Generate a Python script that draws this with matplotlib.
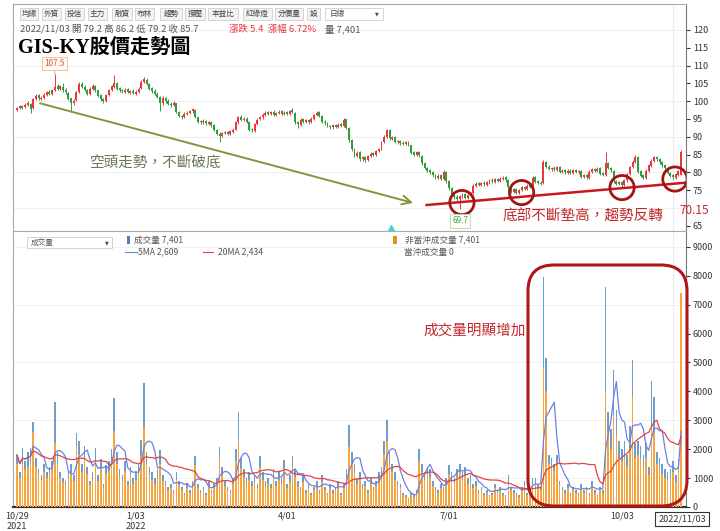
import numpy as np
import pandas as pd
import matplotlib
matplotlib.use('Agg')
import matplotlib.pyplot as plt
from matplotlib.patches import Rectangle, Ellipse, FancyBboxPatch
from matplotlib.lines import Line2D
from matplotlib.transforms import IdentityTransform

plt.rcParams['font.family'] = ['Noto Sans CJK TC', 'DejaVu Sans']

# daily prices, 2021/10/29 .. 2022/11/03 (estimated)
opens = [
    97.6, 98.2, 98.6, 98.3, 99.0, 99.3, 98.0, 100.6, 101.6, 100.6,
    101.0, 101.8, 102.6, 102.0, 103.2, 104.2, 103.4, 104.0, 103.2, 102.4,
    100.8, 99.4, 100.2, 102.6, 104.9, 104.0, 103.0, 102.0, 103.4, 104.3,
    103.0, 101.6, 100.6, 100.0, 101.8, 103.0, 104.0, 105.2, 103.6, 103.1,
    102.6, 103.3, 102.4, 102.9, 102.1, 102.6, 103.6, 105.4, 106.0, 104.8,
    103.6, 102.9, 102.1, 101.2, 99.4, 101.0, 100.1, 99.3, 98.8, 99.4,
    97.0, 95.8, 95.5, 96.4, 96.7, 97.1, 97.6, 95.4, 94.3, 94.0,
    94.4, 93.7, 94.1, 93.2, 92.0, 90.9, 90.1, 91.1, 91.3, 90.8,
    91.4, 92.0, 94.0, 95.6, 94.8, 95.1, 94.2, 92.1, 91.7, 93.5,
    94.9, 95.4, 96.2, 96.9, 96.4, 97.0, 96.2, 96.6, 97.1, 96.3,
    96.9, 96.4, 97.4, 96.8, 94.1, 93.4, 94.9, 94.1, 94.7, 94.0,
    95.0, 96.0, 96.9, 95.9, 94.2, 93.9, 93.1, 92.6, 93.3, 92.7,
    93.5, 93.0, 94.9, 92.4, 89.1, 86.4, 84.7, 85.6, 83.7, 84.3,
    83.4, 84.5, 85.3, 84.9, 86.0, 86.6, 88.4, 90.0, 91.9, 89.4,
    89.9, 88.4, 88.9, 88.3, 88.0, 88.5, 87.6, 85.6, 84.9, 85.7,
    84.6, 82.6, 81.3, 80.6, 80.1, 79.3, 78.4, 79.1, 78.1, 80.1,
    77.6, 75.5, 74.1, 73.1, 72.4, 73.1, 73.9, 72.7, 73.4, 74.1,
    76.1, 76.9, 76.4, 77.1, 76.5, 77.1, 77.9, 77.4, 78.1, 77.5,
    78.1, 78.6, 77.7, 75.9, 74.4, 75.3, 74.1, 75.1, 75.9, 75.3,
    76.3, 76.0, 78.6, 77.5, 77.1, 76.9, 82.8, 81.6, 80.9, 81.3,
    80.7, 81.5, 80.1, 80.6, 79.9, 80.5, 79.7, 80.7, 80.0, 80.4,
    78.7, 79.3, 78.5, 80.1, 80.9, 80.3, 81.1, 79.7, 79.2, 82.6,
    81.3, 80.5, 77.6, 76.7, 77.3, 76.4, 77.7, 79.4, 81.4, 82.9,
    84.4, 80.3, 79.1, 78.4, 80.4, 81.9, 83.1, 84.3, 83.7, 82.9,
    82.1, 81.3, 79.9, 79.1, 78.5, 79.3, 79.2]

closes = [
    98.0, 98.5, 98.2, 99.0, 99.5, 97.8, 100.5, 101.5, 100.8, 101.0,
    101.8, 102.5, 102.0, 103.0, 104.0, 103.5, 104.2, 103.0, 102.5, 100.5,
    99.5, 100.0, 102.5, 104.8, 104.0, 103.2, 102.0, 103.5, 104.2, 103.0,
    101.5, 100.5, 100.0, 101.8, 103.0, 104.2, 105.0, 103.5, 103.0, 102.8,
    103.2, 102.5, 102.8, 102.2, 102.6, 103.5, 105.5, 106.2, 104.8, 103.5,
    102.8, 102.0, 101.2, 99.5, 101.0, 100.0, 99.2, 98.8, 99.5, 97.0,
    95.8, 95.5, 96.5, 96.8, 97.2, 97.8, 95.5, 94.2, 94.0, 94.5,
    93.8, 94.0, 93.2, 92.0, 90.8, 90.2, 91.0, 91.2, 90.8, 91.5,
    92.0, 94.0, 95.5, 94.8, 95.0, 94.2, 92.0, 91.8, 93.5, 94.8,
    95.5, 96.2, 96.8, 96.5, 96.9, 96.2, 96.6, 97.0, 96.4, 96.8,
    96.5, 97.2, 97.0, 94.0, 93.5, 94.8, 94.2, 94.6, 94.0, 95.0,
    96.0, 96.8, 95.8, 94.2, 93.8, 93.0, 92.6, 93.2, 92.8, 93.4,
    93.0, 94.8, 92.5, 89.0, 86.5, 84.8, 85.5, 83.8, 84.2, 83.5,
    84.5, 85.2, 85.0, 86.0, 86.5, 88.5, 90.0, 91.8, 89.5, 89.8,
    88.5, 88.8, 88.2, 88.0, 88.4, 87.8, 85.5, 85.0, 85.6, 84.8,
    82.5, 81.2, 80.5, 80.0, 79.2, 78.5, 79.0, 78.2, 80.2, 77.5,
    75.5, 74.0, 73.0, 72.5, 73.2, 73.8, 72.8, 73.5, 74.0, 76.2,
    76.8, 76.5, 77.0, 76.6, 77.2, 77.8, 77.5, 78.0, 77.6, 78.2,
    78.5, 77.8, 75.8, 74.5, 75.2, 74.2, 75.0, 75.8, 75.4, 76.2,
    76.0, 78.5, 77.4, 77.0, 76.8, 83.0, 81.5, 81.0, 81.2, 80.8,
    81.4, 80.2, 80.5, 80.0, 80.4, 79.8, 80.6, 80.1, 80.3, 78.8,
    79.2, 78.6, 80.2, 80.8, 80.4, 81.0, 79.6, 79.3, 82.5, 81.2,
    80.6, 77.5, 76.8, 77.2, 76.5, 77.8, 79.5, 81.5, 83.0, 84.3,
    80.2, 79.0, 78.5, 80.5, 82.0, 83.2, 84.2, 83.6, 82.8, 82.0,
    81.2, 79.8, 79.0, 78.6, 79.4, 80.3, 85.7]

highs = [
    98.4, 98.9, 99.0, 99.4, 100.0, 99.6, 100.8, 102.0, 101.9, 101.4,
    102.2, 102.9, 103.0, 103.5, 107.5, 104.8, 104.6, 105.0, 103.6, 102.7,
    101.0, 100.6, 102.9, 105.3, 105.4, 104.4, 103.3, 103.9, 104.7, 104.6,
    103.2, 101.9, 101.0, 102.1, 103.4, 104.6, 107.4, 105.5, 104.0, 103.5,
    103.6, 103.7, 103.2, 103.3, 103.0, 103.9, 105.9, 106.8, 106.4, 105.1,
    104.0, 103.3, 102.5, 101.5, 101.4, 101.3, 100.5, 99.7, 99.9, 99.6,
    97.3, 96.2, 96.9, 97.2, 97.6, 98.2, 97.8, 95.6, 94.6, 94.9,
    94.7, 94.4, 94.4, 93.5, 92.3, 91.3, 91.4, 91.6, 91.7, 91.9,
    92.4, 94.4, 95.9, 96.0, 95.4, 95.4, 94.4, 92.5, 93.8, 95.2,
    95.9, 96.6, 97.2, 97.3, 97.3, 97.4, 97.0, 97.4, 97.5, 97.2,
    97.3, 97.6, 98.1, 97.0, 94.4, 95.2, 95.2, 95.0, 95.0, 95.4,
    96.4, 97.2, 97.2, 96.1, 94.6, 94.2, 93.4, 93.6, 93.6, 93.8,
    93.8, 95.2, 95.1, 92.6, 89.4, 86.7, 85.9, 85.9, 84.6, 84.6,
    84.9, 85.6, 85.7, 86.4, 86.9, 88.9, 90.4, 92.3, 92.1, 90.2,
    90.1, 89.2, 89.2, 88.7, 88.8, 88.8, 87.8, 86.0, 86.0, 86.0,
    84.8, 82.9, 81.6, 81.0, 80.4, 79.6, 79.4, 79.4, 80.6, 80.3,
    77.8, 75.8, 74.4, 73.5, 73.6, 74.2, 74.2, 73.9, 74.4, 76.6,
    77.2, 77.3, 77.4, 77.5, 77.6, 78.2, 78.3, 78.4, 78.5, 78.6,
    78.9, 79.0, 78.0, 76.2, 75.6, 75.6, 75.4, 76.2, 76.2, 76.6,
    76.7, 78.9, 78.9, 77.9, 77.5, 83.5, 83.2, 82.0, 81.6, 81.7,
    81.8, 81.8, 80.9, 81.0, 80.8, 80.9, 81.0, 81.0, 80.7, 80.7,
    79.6, 79.6, 80.6, 81.2, 81.3, 81.4, 81.4, 80.1, 85.6, 82.9,
    81.6, 80.7, 77.9, 77.6, 77.6, 78.2, 79.9, 81.9, 83.4, 84.8,
    84.6, 80.6, 79.5, 80.9, 82.4, 83.6, 84.6, 84.7, 84.0, 83.3,
    82.4, 81.6, 80.2, 79.5, 79.8, 80.7, 86.2]

lows = [
    97.2, 97.9, 97.8, 98.0, 98.7, 96.6, 97.8, 100.3, 100.4, 100.2,
    100.7, 101.5, 101.6, 101.8, 102.9, 103.0, 103.1, 102.7, 102.1, 100.2,
    97.0, 99.0, 100.0, 102.4, 103.6, 102.8, 101.6, 101.8, 103.1, 102.7,
    101.1, 100.1, 99.6, 99.8, 101.5, 102.8, 103.8, 103.1, 102.6, 102.4,
    102.3, 102.2, 102.0, 101.9, 101.8, 102.3, 103.4, 105.0, 104.4, 103.1,
    102.4, 101.6, 100.8, 97.2, 99.0, 99.6, 98.8, 98.4, 98.5, 96.6,
    95.4, 95.0, 95.2, 96.0, 96.4, 96.8, 95.2, 93.8, 93.6, 93.7,
    93.4, 93.4, 92.8, 91.6, 90.4, 88.6, 89.8, 90.7, 90.4, 90.5,
    91.1, 91.8, 93.7, 94.4, 94.4, 93.8, 91.6, 91.2, 91.4, 93.2,
    94.6, 95.1, 95.9, 96.1, 96.1, 95.9, 95.9, 96.3, 96.0, 96.0,
    96.2, 96.1, 96.7, 93.6, 92.5, 93.1, 93.9, 93.8, 93.7, 93.8,
    94.8, 95.7, 95.4, 93.9, 93.4, 92.6, 92.2, 92.3, 92.4, 92.4,
    92.6, 92.8, 92.1, 88.6, 86.0, 84.3, 84.4, 83.3, 83.3, 83.0,
    83.1, 84.2, 84.6, 84.6, 85.7, 86.3, 88.1, 89.7, 89.1, 89.0,
    88.1, 88.0, 87.8, 87.6, 87.7, 87.4, 85.1, 84.6, 84.6, 84.4,
    82.1, 80.8, 80.1, 79.6, 78.8, 78.1, 78.1, 77.8, 77.9, 77.1,
    75.1, 73.6, 72.6, 72.0, 69.7, 72.8, 72.4, 72.4, 73.1, 73.9,
    75.8, 76.1, 76.1, 76.2, 76.2, 76.8, 77.1, 77.1, 77.2, 77.2,
    77.8, 77.4, 75.4, 74.1, 74.1, 73.8, 73.8, 74.8, 75.0, 75.0,
    75.6, 75.8, 77.0, 76.6, 76.4, 76.7, 81.1, 80.6, 80.5, 80.4,
    80.4, 79.8, 79.8, 79.6, 79.6, 79.4, 79.4, 79.7, 79.6, 78.4,
    78.3, 78.2, 78.2, 79.8, 80.0, 80.0, 79.2, 78.9, 79.0, 80.8,
    80.2, 77.1, 76.3, 76.3, 75.9, 76.1, 77.4, 79.1, 81.1, 82.6,
    79.8, 78.6, 78.1, 78.1, 80.1, 81.6, 82.8, 83.2, 82.4, 81.6,
    80.8, 79.4, 78.6, 78.2, 78.2, 79.0, 79.2]

# 成交量 (total) and 非當沖成交量 (non day-trade), lots
volume = [
    1800, 1200, 2050, 1600, 1900, 2050, 2950, 1700, 1300, 1100,
    1500, 1200, 1400, 1600, 3650, 1900, 1200, 1000, 900, 1200,
    1500, 1100, 2550, 2300, 1500, 2100, 1400, 900, 1200, 2050,
    1100, 1650, 800, 1450, 1600, 2000, 3770, 1900, 1300, 1100,
    1600, 900, 1400, 1000, 1200, 1500, 2320, 4290, 1900, 1400,
    1200, 1000, 1300, 1960, 1100, 900, 700, 800, 600, 1200,
    900, 700, 500, 800, 600, 900, 1780, 800, 600, 700,
    500, 900, 600, 800, 1000, 2060, 1400, 900, 700, 600,
    1000, 2010, 3280, 1700, 1300, 1000, 1200, 900, 1100, 800,
    1750, 1200, 900, 1000, 800, 1300, 900, 1200, 1000, 1640,
    800, 1100, 1750, 1300, 900, 700, 1100, 600, 800, 500,
    700, 900, 600, 1100, 700, 500, 800, 600, 700, 900,
    500, 800, 1300, 2830, 1900, 1500, 1000, 1200, 800, 900,
    600, 1000, 700, 900, 1200, 1400, 2300, 3010, 1900, 1500,
    1200, 900, 800, 500, 400, 300, 500, 400, 600, 2000,
    1500, 1200, 1400, 1300, 900, 700, 600, 800, 700, 1000,
    1450, 1200, 1000, 1300, 1500, 1200, 1400, 1000, 1100, 800,
    900, 600, 700, 500, 600, 400, 500, 800, 600, 700,
    500, 400, 1100, 700, 600, 500, 400, 700, 900, 500,
    600, 1000, 1000, 800, 700, 7960, 5150, 1800, 1700, 1500,
    1800, 900, 700, 600, 800, 500, 700, 600, 500, 800,
    600, 700, 500, 900, 600, 400, 700, 600, 7620, 3300,
    2700, 4740, 3350, 2300, 2000, 2300, 1800, 2800, 5090, 2200,
    2300, 2100, 1800, 2200, 1400, 4360, 3800, 1900, 1700, 1500,
    1300, 1200, 1300, 1600, 1100, 1650, 7401]

non_daytrade = [
    1500, 1000, 1500, 1300, 1400, 1600, 2600, 1400, 1100, 900,
    1200, 1000, 1100, 1300, 2220, 1500, 1000, 850, 750, 1000,
    1200, 900, 2100, 1800, 1200, 1700, 1150, 750, 950, 1600,
    900, 1300, 650, 1150, 1250, 1600, 2620, 1500, 1050, 900,
    1250, 750, 1100, 800, 950, 1200, 1800, 2780, 1500, 1100,
    950, 800, 1050, 1500, 900, 750, 600, 650, 500, 950,
    750, 600, 420, 650, 500, 750, 1450, 650, 500, 580,
    420, 720, 500, 650, 800, 1700, 1100, 720, 580, 500,
    800, 1600, 2300, 1350, 1050, 800, 950, 720, 880, 650,
    1400, 950, 720, 800, 650, 1050, 720, 950, 800, 1350,
    650, 880, 1400, 1050, 720, 580, 880, 500, 650, 420,
    580, 720, 500, 880, 580, 420, 650, 500, 580, 720,
    420, 650, 1050, 2080, 1500, 1200, 800, 950, 650, 720,
    500, 800, 580, 720, 950, 1100, 1850, 2300, 1500, 1200,
    950, 720, 650, 420, 340, 260, 420, 340, 500, 1600,
    1200, 950, 1100, 1050, 720, 580, 500, 650, 580, 800,
    1150, 950, 800, 1050, 1200, 950, 1100, 800, 880, 650,
    720, 500, 580, 420, 500, 340, 420, 650, 500, 580,
    420, 340, 880, 580, 500, 420, 340, 580, 720, 420,
    500, 800, 800, 650, 580, 4810, 4000, 1500, 1400, 1250,
    1500, 750, 580, 500, 650, 420, 580, 500, 420, 650,
    500, 580, 420, 720, 500, 340, 580, 500, 3980, 2600,
    2000, 3200, 2500, 1700, 1600, 1700, 1400, 2000, 3790, 1700,
    1800, 1650, 1400, 1700, 1100, 2800, 2600, 1500, 1300, 1150,
    1000, 950, 1000, 1200, 850, 1300, 7401]

# trading-day index of the date labels
date_ticks = [0, 44, 100, 160, 224]
date_labels = ['10/29\n2021', '1/03\n2022', '4/01', '7/01', '10/03']
price_ticks = [65, 75, 80, 85, 90, 95, 100, 105, 110, 115, 120]
vol_ticks = list(range(0, 9001, 1000))

toolbar = ['均線', '外資', '投信', '主力', '融資', '布林', '趨勢', '撐壓',
           '本益比', '紅綠燈', '分價量', '設']
toolbar_x = [(20, 38), (42, 61), (65, 84), (88, 107), (112, 132), (135, 154),
             (160, 182), (185, 205), (208, 238), (243, 272), (275, 303), (307, 320)]

W, H = 720, 531
fig = plt.figure(figsize=(W / 100, H / 100), dpi=100)


def fx(x):
    return x / W


def fy(y):
    return 1 - y / H


def box(x0, y0, x1, y1):
    return [fx(x0), fy(y1), (x1 - x0) / W, (y1 - y0) / H]


RED = '#e8383d'
GREEN = '#2f9d3c'
NOTE_RED = '#c0282c'

axp = fig.add_axes(box(13, 4, 686, 231))
axv = fig.add_axes(box(13, 231, 686, 507), sharex=axp)

idx = np.arange(len(closes))
o = np.array(opens)
c = np.array(closes)
hi = np.array(highs)
lo = np.array(lows)
col = np.where(c >= o, RED, GREEN)

# ---- price panel
for y in [70, 80, 90, 100, 110, 120]:
    axp.axhline(y, color='#efefef', lw=0.8, zorder=0)
axp.axvline(243, color='#ececec', lw=0.8, zorder=0)
axv.axvline(243, color='#ececec', lw=0.8, zorder=0)

axp.vlines(idx, lo, hi, colors=col, lw=0.7, zorder=2)
axp.bar(idx, np.maximum(np.abs(c - o), 0.15), bottom=np.minimum(o, c),
        width=0.72, color=col, lw=0, zorder=3)

axp.set_xlim(-1.5, 247.8)
axp.set_ylim(63.5, 127.3)
axp.yaxis.tick_right()
axp.set_yticks(price_ticks)
axp.tick_params(axis='y', labelsize=6.5, length=3, colors='#333', pad=2)
axp.tick_params(axis='x', bottom=False, labelbottom=False)
for s in ['top', 'left', 'bottom']:
    axp.spines[s].set_color('#aaaaaa')
axp.spines['right'].set_color('#777777')

# annotations on price
axp.annotate('', xy=(146.7, 71.4), xytext=(8.5, 99.4),
             arrowprops=dict(arrowstyle='->', color='#82953f', lw=1.4,
                             mutation_scale=16, shrinkA=0, shrinkB=0), zorder=4)
axp.plot([151.7, 248], [70.8, 77.1], color='#c8181c', lw=1.8, zorder=4)
for cx, cy in [(164.8, 71.5), (186.9, 74.3), (224.1, 75.7), (243.7, 78.1)]:
    axp.add_patch(Ellipse((cx, cy), 9.0, 6.8, fill=False, ec='#a01515', lw=2, zorder=5))

axp.annotate('107.5', xy=(14, 107.5), xytext=(14, 110.6), textcoords='data',
             ha='center', va='center', fontsize=5.8, color='#e0502a',
             bbox=dict(boxstyle='square,pad=0.3', fc='#fffaf3', ec='#f2c49a', lw=0.7),
             arrowprops=dict(arrowstyle='-', color='#e8906a', lw=0.6, shrinkA=0, shrinkB=0))
axp.text(164.1, 66.35, '69.7', ha='center', va='center', fontsize=5.8, color='#4aa04a',
         bbox=dict(boxstyle='square,pad=0.3', fc='#fbfff8', ec='#b8dcb0', lw=0.7), zorder=6)
axp.plot(138.5, 64.4, marker='^', color='#3dd0e0', ms=5, clip_on=False)

axp.text(27.0, 82.4, '空頭走勢，不斷破底', fontsize=10.5, color='#687a58', va='center')
axp.text(180.0, 67.6, '底部不斷墊高，趨勢反轉', fontsize=10.5, color=NOTE_RED, va='center')
fig.text(fx(694), fy(210), '70.15', fontsize=8.5, color=NOTE_RED, ha='center', va='center')

# ---- volume panel
for y in [1000, 3000, 5000, 7000, 9000]:
    axv.axhline(y, color='#f0f0f0', lw=0.8, zorder=0)
vol = np.array(volume)
axv.bar(idx, vol, width=0.6, color='#6d9dcb', lw=0, zorder=2)
axv.bar(idx, non_daytrade, width=0.6, color='#f5a53f', lw=0, zorder=3)
vs = pd.Series(vol)
axv.plot(idx, vs.rolling(5, min_periods=1).mean(), color='#7080e0', lw=0.9, zorder=4)
axv.plot(idx, vs.rolling(20, min_periods=1).mean(), color='#e04545', lw=0.9, zorder=4)

axv.set_ylim(0, 9550)
axv.yaxis.tick_right()
axv.set_yticks(vol_ticks)
axv.tick_params(axis='y', labelsize=6.5, length=3, colors='#333', pad=2)
axv.set_xticks(date_ticks)
axv.set_xticklabels(date_labels)
axv.tick_params(axis='x', labelsize=6.5, length=0, colors='#333', pad=3)
axv.spines['left'].set_color('#aaaaaa')
axv.spines['top'].set_color('#aaaaaa')
axv.spines['right'].set_color('#777777')
axv.spines['bottom'].set_color('#333333')
axv.spines['bottom'].set_linewidth(1.6)

fig.text(fx(682), fy(519), '2022/11/03', fontsize=6.5, ha='center', va='center', color='#333',
         bbox=dict(boxstyle='square,pad=0.3', fc='white', ec='#333', lw=0.8))

axv.text(150.4, 6100, '成交量明顯增加', fontsize=10.5, color=NOTE_RED, va='center')
fig.add_artist(FancyBboxPatch((528, 25), 159, 241, boxstyle='round,pad=0,rounding_size=26',
                              transform=IdentityTransform(), fill=False, ec='#b01818', lw=2.2))

# ---- header widgets
for lab, (x0, x1) in zip(toolbar, toolbar_x):
    fig.add_artist(Rectangle((fx(x0), fy(20)), (x1 - x0) / W, 12 / H, transform=fig.transFigure,
                             fc='#f3f3f3', ec='#cfcfcf', lw=0.6))
    fig.text(fx((x0 + x1) / 2), fy(14), lab, fontsize=5.5, color='#444', ha='center', va='center')
fig.add_artist(Rectangle((fx(325), fy(20)), 58 / W, 12 / H, transform=fig.transFigure,
                         fc='white', ec='#cfcfcf', lw=0.6))
fig.text(fx(330), fy(14), '日線', fontsize=5.5, color='#444', va='center')
fig.text(fx(377), fy(14), '▼', fontsize=3.5, color='#444', va='center', ha='center',
         family=['DejaVu Sans'])

fig.text(fx(20), fy(29), '2022/11/03 開 79.2 高 86.2 低 79.2 收 85.7', fontsize=6.8,
         color='#555', va='center')
fig.text(fx(229), fy(29), '漲跌 5.4  漲幅 6.72%', fontsize=6.8, color='#e8383d', va='center')
fig.text(fx(325), fy(29), '量 7,401', fontsize=6.8, color='#555', va='center')
fig.text(fx(18), fy(48), 'GIS-KY股價走勢圖', fontsize=14.5, color='black', va='center',
         weight='bold', family=['Liberation Serif', 'Noto Sans CJK TC'])

# volume legend
fig.add_artist(Rectangle((fx(27), fy(248)), 85 / W, 11 / H, transform=fig.transFigure,
                         fc='white', ec='#cccccc', lw=0.6))
fig.text(fx(31), fy(242.5), '成交量', fontsize=5.5, color='#555', va='center')
fig.text(fx(107), fy(242.5), '▼', fontsize=3.5, color='#444', va='center', ha='center',
         family=['DejaVu Sans'])
fig.add_artist(Rectangle((fx(127), fy(244)), 3 / W, 8 / H, transform=fig.transFigure,
                         fc='#4a7fb8', ec='none'))
fig.text(fx(134), fy(240), '成交量 7,401', fontsize=6.2, color='#555', va='center')
fig.add_artist(Line2D([fx(125), fx(137)], [fy(252), fy(252)], color='#7080e0', lw=0.8))
fig.text(fx(137.5), fy(252), '5MA 2,609', fontsize=6.2, color='#555', va='center')
fig.add_artist(Line2D([fx(203), fx(213)], [fy(252), fy(252)], color='#e04545', lw=0.8))
fig.text(fx(218), fy(252), '20MA 2,434', fontsize=6.2, color='#555', va='center')
fig.add_artist(Rectangle((fx(393), fy(244)), 4 / W, 8 / H, transform=fig.transFigure,
                         fc='#e8901f', ec='none'))
fig.text(fx(405), fy(240), '非當沖成交量 7,401', fontsize=6.2, color='#555', va='center')
fig.text(fx(404), fy(252), '當沖成交量 0', fontsize=6.2, color='#555', va='center')

fig.savefig('out.png', dpi=100)
